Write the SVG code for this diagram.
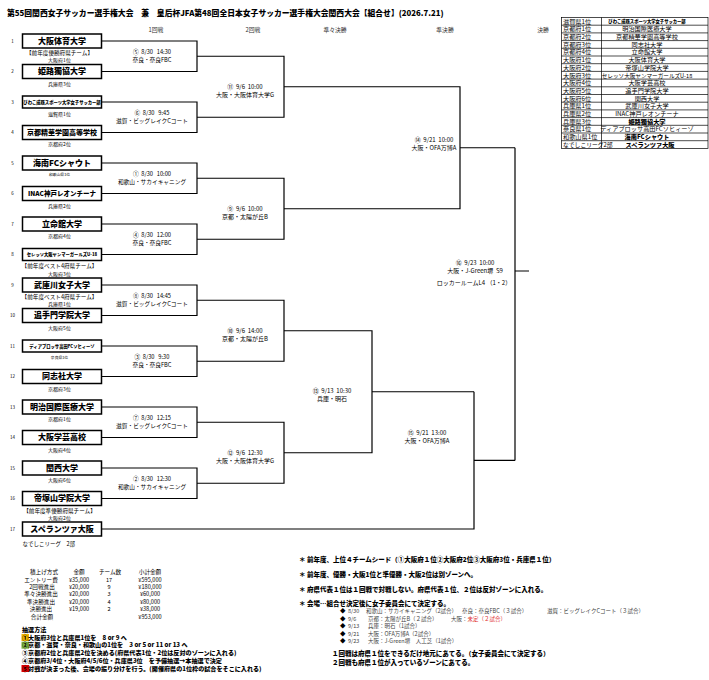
<svg xmlns="http://www.w3.org/2000/svg" width="709" height="680" viewBox="0 0 709 680">
<style>
text{font-family:"Noto Sans CJK JP","Noto Sans CJK SC",sans-serif;fill:#000}
.ttl{font-size:7.8px;font-weight:900}
.hd{font-size:5.8px;text-anchor:middle;fill:#333}
.box{fill:#fff;stroke:#000;stroke-width:1.5}
.nm{font-size:8px;font-weight:900;text-anchor:middle}
.nmS{font-size:4.3px;font-weight:900;text-anchor:middle}
.no{font-size:4.5px;text-anchor:middle}
.sub{font-size:5px;text-anchor:middle}
.subL{font-size:5.6px;text-anchor:middle}
.subS{font-size:3.8px;text-anchor:middle}
.ln{fill:none;stroke:#000;stroke-width:1.2}
.m1{font-size:5.7px;text-anchor:middle}
.m2{font-size:6px;text-anchor:middle}
.tb{fill:#fff;stroke:#000;stroke-width:0.7}
.tl{font-size:6.2px}
.tt{font-size:6.2px;text-anchor:middle}
.ft{font-size:5.6px;text-anchor:middle}
.bd{font-size:6.1px;font-weight:900}
.nt{font-size:6.5px;font-weight:900}
.bl{font-size:5.5px;fill:#444}
</style>

<text class="ttl" x="7" y="16">第55回関西女子サッカー選手権大会　兼　皇后杯JFA第48回全日本女子サッカー選手権大会関西大会【組合せ】(2026.7.21)</text>

<g id="headers">
<text class="hd" x="156" y="32">1回戦</text>
<text class="hd" x="253" y="32">2回戦</text>
<text class="hd" x="335" y="32">準々決勝</text>
<text class="hd" x="445" y="32">準決勝</text>
<text class="hd" x="543" y="32">決勝</text>
</g>

<g id="connectors">
<path class="ln" d="M101.5 41H197V71.5H101.5M101.5 102H197V132.5H101.5M101.5 163H197V193.5H101.5M101.5 224H197V254.5H101.5M101.5 285H197V315.5H101.5M101.5 346H197V376.5H101.5M101.5 407H197V437.5H101.5M101.5 468H197V498.5H101.5"/>
<path class="ln" d="M197 56.25H284V117.25H197M197 178.25H284V239.25H197M197 300.25H284V361.25H197M197 422.25H284V483.25H197"/>
<path class="ln" d="M284 86.75H460V208.75H284M460 147.75H515"/>
<path class="ln" d="M284 330.75H372V452.75H284M372 391.75H474"/>
<path class="ln" d="M101.5 529H474V391.75M474 460.4H515"/>
<path class="ln" d="M515 147.75V460.4M515 271H529"/>
</g>

<g id="n1"><text class="no" x="12.5" y="42.5">1</text><rect class="box" x="22.5" y="34" width="79" height="14"/><text class="nm" x="62" y="43.8">大阪体育大学</text><text class="subL" x="59.5" y="55">【前年度優勝府県チーム】</text><text class="sub" x="59.5" y="62">大阪府1位</text></g>
<g id="n2"><text class="no" x="12.5" y="73">2</text><rect class="box" x="22.5" y="64.5" width="79" height="14"/><text class="nm" x="62" y="74.3">姫路獨協大学</text><text class="sub" x="59.5" y="85.5">兵庫県3位</text></g>
<g id="n3"><text class="no" x="12.5" y="103.5">3</text><rect class="box" x="22.5" y="96" width="79" height="12"/><text class="nmS" x="62" y="103.6">びわこ成蹊スポーツ大学女子サッカー部</text><text class="sub" x="59.5" y="115.5">滋賀県1位</text></g>
<g id="n4"><text class="no" x="12.5" y="134">4</text><rect class="box" x="22.5" y="125.5" width="79" height="14"/><text class="nm" x="62" y="135" style="font-size:7px">京都精華学園高等学校</text><text class="sub" x="59.5" y="146">京都府2位</text></g>
<g id="n5"><text class="no" x="12.5" y="164.5">5</text><rect class="box" x="22.5" y="156" width="79" height="14"/><text class="nm" x="62" y="165.8">海南FCシャウト</text><text class="subS" x="59.5" y="175.5">和歌山県1位</text></g>
<g id="n6"><text class="no" x="12.5" y="195">6</text><rect class="box" x="22.5" y="186.5" width="79" height="14"/><text class="nm" x="62" y="195.8" style="font-size:6.5px">INAC神戸レオンチーナ</text><text class="sub" x="59.5" y="207.5">兵庫県2位</text></g>
<g id="n7"><text class="no" x="12.5" y="225.5">7</text><rect class="box" x="22.5" y="217" width="79" height="14"/><text class="nm" x="62" y="226.8">立命館大学</text><text class="sub" x="59.5" y="237.5">京都府4位</text></g>
<g id="n8"><text class="no" x="12.5" y="256">8</text><rect class="box" x="22.5" y="248.5" width="79" height="12"/><text class="nmS" x="62" y="256">セレッソ大阪ヤンマーガールズU-18</text><text class="subL" x="59.5" y="267.5">【前年度ベスト4府県チーム】</text><text class="sub" x="59.5" y="276">大阪府3位</text></g>
<g id="n9"><text class="no" x="12.5" y="286.5">9</text><rect class="box" x="22.5" y="278" width="79" height="14"/><text class="nm" x="62" y="287.8">武庫川女子大学</text><text class="subL" x="59.5" y="298.5">【前年度ベスト4府県チーム】</text><text class="sub" x="59.5" y="305.5">兵庫県1位</text></g>
<g id="n10"><text class="no" x="12.5" y="317">10</text><rect class="box" x="22.5" y="308.5" width="79" height="14"/><text class="nm" x="62" y="318.3">追手門学院大学</text><text class="sub" x="59.5" y="330">大阪府5位</text></g>
<g id="n11"><text class="no" x="12.5" y="347.5">11</text><rect class="box" x="22.5" y="340" width="79" height="12"/><text class="nmS" x="62" y="347.6">ディアブロッサ高田FCソヒィーゾ</text><text class="subS" x="59.5" y="359">奈良県1位</text></g>
<g id="n12"><text class="no" x="12.5" y="378">12</text><rect class="box" x="22.5" y="369.5" width="79" height="14"/><text class="nm" x="62" y="379.3">同志社大学</text><text class="sub" x="59.5" y="391">京都府3位</text></g>
<g id="n13"><text class="no" x="12.5" y="408.5">13</text><rect class="box" x="22.5" y="400" width="79" height="14"/><text class="nm" x="62" y="409.8">明治国際医療大学</text><text class="sub" x="59.5" y="421">京都府1位</text></g>
<g id="n14"><text class="no" x="12.5" y="439">14</text><rect class="box" x="22.5" y="430.5" width="79" height="14"/><text class="nm" x="62" y="440.3">大阪学芸高校</text><text class="sub" x="59.5" y="451.5">大阪府4位</text></g>
<g id="n15"><text class="no" x="12.5" y="469.5">15</text><rect class="box" x="22.5" y="461" width="79" height="14"/><text class="nm" x="62" y="470.8">関西大学</text><text class="sub" x="59.5" y="482">大阪府6位</text></g>
<g id="n16"><text class="no" x="12.5" y="500">16</text><rect class="box" x="22.5" y="491.5" width="79" height="14"/><text class="nm" x="62" y="501.3">帝塚山学院大学</text><text class="subL" x="59.5" y="512.5">【前年度準優勝府県チーム】</text><text class="sub" x="59.5" y="519.5">大阪府2位</text></g>
<g id="n17"><text class="no" x="12.5" y="530.5">17</text><rect class="box" x="22.5" y="522" width="79" height="14"/><text class="nm" x="62" y="531.8">スペランツァ大阪</text><text class="sub" x="22.5" y="546" style="text-anchor:start;font-size:5.5px">なでしこリーグ　2部</text></g>

<g id="matches">
<text class="m1" x="152" y="54">⑤&#160;&#160;8/30&#160;&#160;&#160;14:30</text><text class="m1" x="152" y="61.5">奈良・奈良FBC</text>
<text class="m1" x="152" y="115">⑥&#160;&#160;8/30&#160;&#160;&#160;9:45</text><text class="m1" x="152" y="122.5">滋賀・ビッグレイクCコート</text>
<text class="m1" x="152" y="176">①&#160;&#160;8/30&#160;&#160;&#160;10:00</text><text class="m1" x="152" y="183.5">和歌山・サカイキャニング</text>
<text class="m1" x="152" y="237">④&#160;&#160;8/30&#160;&#160;&#160;12:00</text><text class="m1" x="152" y="244.5">奈良・奈良FBC</text>
<text class="m1" x="152" y="298">⑧&#160;&#160;8/30&#160;&#160;&#160;14:45</text><text class="m1" x="152" y="305.5">滋賀・ビッグレイクCコート</text>
<text class="m1" x="152" y="359">③&#160;&#160;8/30&#160;&#160;&#160;9:30</text><text class="m1" x="152" y="366.5">奈良・奈良FBC</text>
<text class="m1" x="152" y="420">⑦&#160;&#160;8/30&#160;&#160;&#160;12:15</text><text class="m1" x="152" y="427.5">滋賀・ビッグレイクCコート</text>
<text class="m1" x="152" y="481">②&#160;&#160;8/30&#160;&#160;&#160;12:30</text><text class="m1" x="152" y="488.5">和歌山・サカイキャニング</text>
<text class="m2" x="245" y="89">⑪&#160;&#160;9/6&#160;&#160;10:00</text><text class="m2" x="245" y="97">大阪・大阪体育大学G</text>
<text class="m2" x="245" y="211">⑨&#160;&#160;9/6&#160;&#160;10:00</text><text class="m2" x="245" y="219">京都・太陽が丘B</text>
<text class="m2" x="245" y="333">⑩&#160;&#160;9/6&#160;&#160;14:00</text><text class="m2" x="245" y="341">京都・太陽が丘B</text>
<text class="m2" x="245" y="455">⑫&#160;&#160;9/6&#160;&#160;12:30</text><text class="m2" x="245" y="463">大阪・大阪体育大学G</text>
<text class="m2" x="332" y="393">⑬&#160;&#160;9/13&#160;&#160;10:30</text><text class="m2" x="332" y="401">兵庫・明石</text>
<text class="m2" x="434" y="142">⑭&#160;&#160;9/21&#160;&#160;10:00</text><text class="m2" x="434" y="150">大阪・OFA万博A</text>
<text class="m2" x="427" y="435">⑮&#160;&#160;9/21&#160;&#160;13:00</text><text class="m2" x="427" y="443">大阪・OFA万博A</text>
<text class="m2" x="475" y="265">⑯&#160;&#160;9/23&#160;&#160;10:00</text><text class="m2" x="475" y="272.5">大阪・J-Green堺&#160;&#160;S9</text><text class="m2" x="474" y="284.5">ロッカールームL4&#160;（1・2）</text>
</g>

<g id="teamtable">
<rect class="tb" x="561.5" y="17.5" width="146.5" height="130.9"/>
<path d="M601.5 17.5V148.4M561.5 25.2H708M561.5 32.9H708M561.5 40.6H708M561.5 48.3H708M561.5 56H708M561.5 63.7H708M561.5 71.4H708M561.5 79.1H708M561.5 86.8H708M561.5 94.5H708M561.5 102.2H708M561.5 109.9H708M561.5 117.6H708M561.5 125.3H708M561.5 133H708M561.5 140.7H708" stroke="#000" stroke-width="0.7" fill="none"/>
<text class="tl" x="563" y="23.6">滋賀県1位</text><text class="tt" x="647" y="23.4" style="font-size:4.3px;font-weight:900">びわこ成蹊スポーツ大学女子サッカー部</text>
<text class="tl" x="563" y="31.3">京都府1位</text><text class="tt" x="647" y="31.3">明治国際医療大学</text>
<text class="tl" x="563" y="39">京都府2位</text><text class="tt" x="647" y="39">京都精華学園高等学校</text>
<text class="tl" x="563" y="46.7">京都府3位</text><text class="tt" x="647" y="46.7">同志社大学</text>
<text class="tl" x="563" y="54.4">京都府4位</text><text class="tt" x="647" y="54.4">立命館大学</text>
<text class="tl" x="563" y="62.1">大阪府1位</text><text class="tt" x="647" y="62.1">大阪体育大学</text>
<text class="tl" x="563" y="69.8">大阪府2位</text><text class="tt" x="647" y="69.8">帝塚山学院大学</text>
<text class="tl" x="563" y="77.5">大阪府3位</text><text class="tt" x="647" y="77.5" style="font-size:5.6px">セレッソ大阪ヤンマーガールズU-18</text>
<text class="tl" x="563" y="85.2">大阪府4位</text><text class="tt" x="647" y="85.2">大阪学芸高校</text>
<text class="tl" x="563" y="92.9">大阪府5位</text><text class="tt" x="647" y="92.9">追手門学院大学</text>
<text class="tl" x="563" y="100.6">大阪府6位</text><text class="tt" x="647" y="100.6">関西大学</text>
<text class="tl" x="563" y="108.3">兵庫県1位</text><text class="tt" x="647" y="108.3">武庫川女子大学</text>
<text class="tl" x="563" y="116">兵庫県2位</text><text class="tt" x="647" y="116">INAC神戸レオンチーナ</text>
<text class="tl" x="563" y="123.7">兵庫県3位</text><text class="tt" x="647" y="123.7" style="font-weight:900">姫路獨協大学</text>
<text class="tl" x="563" y="131.4">奈良県1位</text><text class="tt" x="647" y="131.4">ディアブロッサ高田FCソヒィーゾ</text>
<text class="tl" x="563" y="139.1">和歌山県1位</text><text class="tt" x="647" y="139.1" style="font-weight:900">海南FCシャウト</text>
<text class="tl" x="563" y="146.8" style="font-size:5.8px">なでしこリーグ2部</text><text class="tt" x="650" y="146.8" style="font-weight:900">スペランツァ大阪</text>
</g>

<g id="funding">
<text class="ft" x="44" y="574">積上げ方式</text><text class="ft" x="79" y="574">金額</text><text class="ft" x="110" y="574">チーム数</text><text class="ft" x="150" y="574">小計金額</text>
<text class="ft" x="41" y="581.5">エントリー費</text><text class="ft" x="79" y="581.5">¥35,000</text><text class="ft" x="109" y="581.5">17</text><text class="ft" x="150" y="581.5">¥595,000</text>
<text class="ft" x="42" y="588.8">2回戦進出</text><text class="ft" x="79" y="588.8">¥20,000</text><text class="ft" x="109" y="588.8">9</text><text class="ft" x="150" y="588.8">¥180,000</text>
<text class="ft" x="41" y="596.1">準々決勝進出</text><text class="ft" x="79" y="596.1">¥20,000</text><text class="ft" x="109" y="596.1">3</text><text class="ft" x="150" y="596.1">¥60,000</text>
<text class="ft" x="41" y="603.7">準決勝進出</text><text class="ft" x="79" y="603.7">¥20,000</text><text class="ft" x="109" y="603.7">4</text><text class="ft" x="150" y="603.7">¥80,000</text>
<text class="ft" x="41" y="611">決勝進出</text><text class="ft" x="79" y="611">¥19,000</text><text class="ft" x="109" y="611">2</text><text class="ft" x="150" y="611">¥38,000</text>
<text class="ft" x="42" y="618.5">合計金額</text><text class="ft" x="150" y="618.5">¥953,000</text>
</g>

<g id="lottery">
<text class="bd" x="22" y="631.8">抽選方法</text>
<rect x="21.5" y="634" width="7.5" height="7" fill="#f0b400"/>
<rect x="21.5" y="641.7" width="7.5" height="7" fill="#7cb342"/>
<rect x="21.5" y="665" width="7.5" height="7" fill="#e00000"/>
<text class="bd" x="22" y="639.7">①大阪府3位と兵庫県1位を　8 or 9 へ</text>
<text class="bd" x="22" y="647.4">②京都・滋賀・奈良・和歌山の1位を　3 or 5 or 11 or 13 へ</text>
<text class="bd" x="22" y="655.1">③京都府2位と兵庫県2位を決める(府県代表1位・2位は反対のゾーンに入れる)</text>
<text class="bd" x="22" y="662.8">④京都府3/4位・大阪府4/5/6位・兵庫県3位　を予備抽選→本抽選で決定</text>
<text class="bd" x="22" y="670.5">⑤対戦が決まった後、会場の振り分けを行う。(開催府県の1位枠の試合をそこに入れる)</text>
</g>

<g id="notes">
<text class="nt" x="299" y="561.8">＊ 前年度、上位４チームシード（①大阪府１位②大阪府2位③大阪府3位・兵庫県１位）</text>
<text class="nt" x="299" y="576.8">＊ 前年度、優勝・大阪1位と準優勝・大阪2位は別ゾーンへ。</text>
<text class="nt" x="299" y="591.5">＊ 府県代表１位は１回戦で対戦しない。府県代表１位、２位は反対ゾーンに入れる。</text>
<text class="nt" x="299" y="605.8">＊ 会場…組合せ決定後に女子委員会にて決定する。</text>
<text class="bl" x="340" y="613" style="fill:#000">◆</text><text class="bl" x="348" y="613">8/30</text><text class="bl" x="366" y="613">和歌山：サカイキャニング（2試合）</text><text class="bl" x="462" y="613">奈良：奈良FBC（３試合）</text><text class="bl" x="547" y="613">滋賀：ビッグレイクCコート（３試合）</text>
<text class="bl" x="340" y="620.5" style="fill:#000">◆</text><text class="bl" x="348" y="620.5">9/6</text><text class="bl" x="368" y="620.5">京都：太陽が丘B（２試合）</text><text class="bl" x="451" y="620.5">大阪：<tspan style="fill:#e03030">未定（２試合）</tspan></text>
<text class="bl" x="340" y="628" style="fill:#000">◆</text><text class="bl" x="348" y="628">9/13</text><text class="bl" x="368" y="628">兵庫：明石（1試合）</text>
<text class="bl" x="340" y="635.5" style="fill:#000">◆</text><text class="bl" x="348" y="635.5">9/21</text><text class="bl" x="368" y="635.5">大阪：OFA万博A（2試合）</text>
<text class="bl" x="340" y="642.7" style="fill:#000">◆</text><text class="bl" x="348" y="642.7">9/23</text><text class="bl" x="368" y="642.7">大阪：J-Green堺　人工芝（1試合）</text>
<text class="nt" x="332" y="656">１回戦は府県１位をできるだけ地元にあてる。（女子委員会にて決定する）</text>
<text class="nt" x="332" y="664.8">２回戦も府県１位が入っているゾーンにあてる。</text>
</g>
</svg>
